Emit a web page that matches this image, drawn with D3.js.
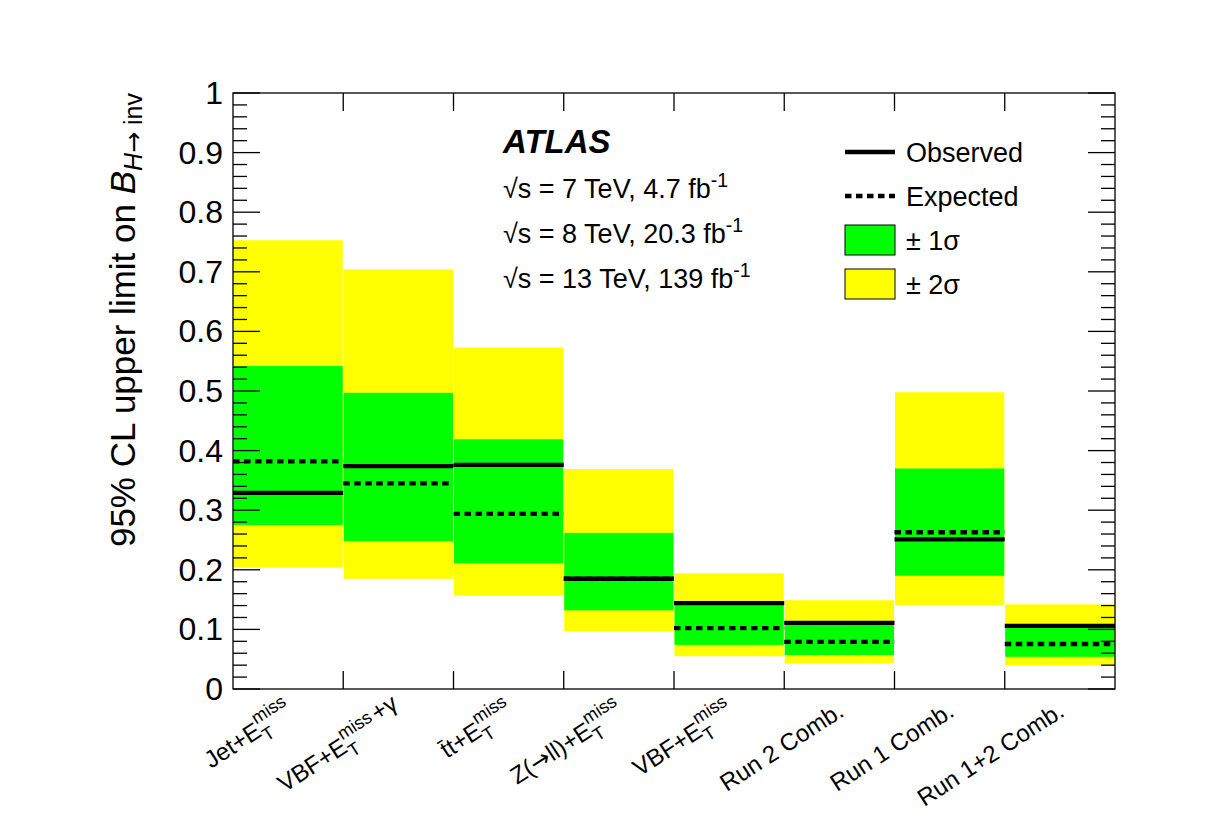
<!doctype html>
<html lang="en">
<head>
<meta charset="UTF-8" />
<title>H to invisible limits</title>
<script src="https://cdn.jsdelivr.net/npm/d3@7"></script>
<style>
  body { margin: 0; background: #fff; }
  svg text { font-family: "Liberation Sans", Arial, Helvetica, sans-serif; fill: #000; }
  .arrow { font-family: "DejaVu Sans", sans-serif; }
</style>
</head>
<body>
<svg id="chart" width="1216" height="836"></svg>
<script>
// bin labels, split into pieces: [text, kind]  (kind: sub / stack = superscript over the sub / raise / arrow)
const categories = [
  [["Jet+E"], ["T", "sub"], ["miss", "stack"]],
  [["VBF+E"], ["T", "sub"], ["miss", "stack"], ["+\u03b3", "raise"]],
  [["t\u0304t+E"], ["T", "sub"], ["miss", "stack"]],
  [["Z("], ["\u2192", "arrow"], ["ll)+E"], ["T", "sub"], ["miss", "stack"]],
  [["VBF+E"], ["T", "sub"], ["miss", "stack"]],
  [["Run 2 Comb."]],
  [["Run 1 Comb."]],
  [["Run 1+2 Comb."]]
];
const observed = [0.329, 0.374, 0.376, 0.185, 0.144, 0.111, 0.251, 0.106];
const expected = [0.382, 0.345, 0.294, 0.185, 0.102, 0.079, 0.263, 0.0755];
const plus1    = [0.542, 0.497, 0.419, 0.262, 0.145, 0.112, 0.370, 0.106];
const minus1   = [0.275, 0.248, 0.211, 0.132, 0.074, 0.057, 0.190, 0.054];
const plus2    = [0.753, 0.704, 0.573, 0.369, 0.194, 0.149, 0.498, 0.142];
const minus2   = [0.204, 0.185, 0.157, 0.097, 0.055, 0.043, 0.141, 0.040];
const yTicks = d3.range(0, 11).map(i => i / 10);
const infoLines = [
  [["\u221as = 7 TeV, 4.7 fb"], ["-1", "sup"]],
  [["\u221as = 8 TeV, 20.3 fb"], ["-1", "sup"]],
  [["\u221as = 13 TeV, 139 fb"], ["-1", "sup"]]
];
const legendItems = [
  { label: "Observed", kind: "solid" },
  { label: "Expected", kind: "dash" },
  { label: "\u00b1 1\u03c3", kind: "green" },
  { label: "\u00b1 2\u03c3", kind: "yellow" }
];

const GREEN = "#00ff00", YELLOW = "#ffff00";
const padL = 233, padR = 1115, padT = 93, padB = 689;

const svg = d3.select("#chart");

const x = d3.scaleBand().domain(d3.range(categories.length)).range([padL, padR]).padding(0);
const y = d3.scaleLinear().domain([0, 1]).range([padB, padT]);

// write text pieces with sub / superscripts as tspans
function addParts(text, parts, size) {
  const small = size * 0.75;
  let shift = 0, lastSmall = "";
  parts.forEach(([t, kind]) => {
    const ts = text.append("tspan").text(t);
    let target = 0;
    if (kind === "sub") { target = size * 0.32; ts.attr("font-size", small); }
    if (kind === "sup") { target = -size * 0.42; ts.attr("font-size", small * 0.96); }
    if (kind === "stack") {
      target = -size * 0.52;
      ts.attr("font-size", small).attr("dx", -lastSmall.length * small * 0.6);
    }
    if (kind === "raise") { target = -size * 0.38; ts.attr("dx", 3); }
    if (kind === "arrow") ts.attr("class", "arrow");
    if (target - shift !== 0) ts.attr("dy", target - shift);
    shift = target;
    lastSmall = kind === "sub" ? t : "";
  });
}

// bands
const bins = svg.append("g");
const bw = x.bandwidth();
bins.selectAll(".y2").data(categories).join("rect")
  .attr("x", (d, i) => x(i) + 0.5).attr("width", bw - 1)
  .attr("y", (d, i) => y(plus2[i])).attr("height", (d, i) => y(minus2[i]) - y(plus2[i]))
  .attr("fill", YELLOW);
bins.selectAll(".g1").data(categories).join("rect")
  .attr("x", (d, i) => x(i) + 0.5).attr("width", bw - 1)
  .attr("y", (d, i) => y(plus1[i])).attr("height", (d, i) => y(minus1[i]) - y(plus1[i]))
  .attr("fill", GREEN);
bins.selectAll(".exp").data(categories).join("line")
  .attr("x1", (d, i) => x(i)).attr("x2", (d, i) => x(i) + bw)
  .attr("y1", (d, i) => y(expected[i])).attr("y2", (d, i) => y(expected[i]))
  .attr("stroke", "#000").attr("stroke-width", 4.3).attr("stroke-dasharray", "6.5,4.5");
bins.selectAll(".obs").data(categories).join("line")
  .attr("x1", (d, i) => x(i)).attr("x2", (d, i) => x(i) + bw)
  .attr("y1", (d, i) => y(observed[i])).attr("y2", (d, i) => y(observed[i]))
  .attr("stroke", "#000").attr("stroke-width", 4.3);

// frame and ticks
const axes = svg.append("g").attr("stroke", "#000").attr("stroke-width", 1.3);
axes.append("rect").attr("x", padL).attr("y", padT)
  .attr("width", padR - padL).attr("height", padB - padT).attr("fill", "none");
const fine = d3.range(0, 51).map(i => i / 50);
fine.forEach((v, i) => {
  const len = i % 5 === 0 ? 27 : 14;
  axes.append("line").attr("x1", padL).attr("x2", padL + len).attr("y1", y(v)).attr("y2", y(v));
  axes.append("line").attr("x1", padR).attr("x2", padR - len).attr("y1", y(v)).attr("y2", y(v));
});
d3.range(1, categories.length).forEach(i => {
  axes.append("line").attr("x1", x(i)).attr("x2", x(i)).attr("y1", padB).attr("y2", padB - 18);
  axes.append("line").attr("x1", x(i)).attr("x2", x(i)).attr("y1", padT).attr("y2", padT + 18);
});

// y tick labels
svg.append("g").selectAll("text").data(yTicks).join("text")
  .attr("x", 223).attr("y", d => y(d) + 11)
  .attr("text-anchor", "end").attr("font-size", 32)
  .text(d => d3.format("~g")(d));

// y title
const yt = svg.append("text")
  .attr("transform", `translate(135,${padT}) rotate(-90)`)
  .attr("text-anchor", "end").attr("font-size", 35);
yt.append("tspan").text("95% CL upper limit on ");
yt.append("tspan").attr("font-style", "italic").text("B");
yt.append("tspan").attr("font-size", 25).attr("dy", 7).attr("font-style", "italic").text("H");
yt.append("tspan").attr("font-size", 25).attr("class", "arrow").text("\u2192");
yt.append("tspan").attr("font-size", 25).text(" inv");

// bin labels
categories.forEach((parts, i) => {
  const t = svg.append("text")
    .attr("transform", `translate(${x(i) + bw / 2 + 6},715) rotate(-33)`)
    .attr("text-anchor", "end").attr("font-size", 24);
  addParts(t, parts, 24);
});

// ATLAS label and energies
svg.append("text").attr("x", 503).attr("y", 153)
  .attr("font-size", 33).attr("font-weight", "bold").attr("font-style", "italic")
  .text("ATLAS");
infoLines.forEach((parts, i) => {
  const t = svg.append("text").attr("x", 503).attr("y", 198 + i * 45).attr("font-size", 27);
  addParts(t, parts, 27);
});

// legend
const lg = svg.append("g");
legendItems.forEach((d, i) => {
  const cy = 152 + i * 44;
  if (d.kind === "solid" || d.kind === "dash") {
    lg.append("line").attr("x1", 845).attr("x2", 895).attr("y1", cy).attr("y2", cy)
      .attr("stroke", "#000").attr("stroke-width", 4.3)
      .attr("stroke-dasharray", d.kind === "dash" ? "6.5,4.5" : null);
  } else {
    lg.append("rect").attr("x", 845).attr("y", cy - 15).attr("width", 50).attr("height", 30)
      .attr("fill", d.kind === "green" ? GREEN : YELLOW).attr("stroke", "#000").attr("stroke-width", 1);
  }
  lg.append("text").attr("x", 906).attr("y", cy + 10).attr("font-size", 27).text(d.label);
});
</script>
</body>
</html>
